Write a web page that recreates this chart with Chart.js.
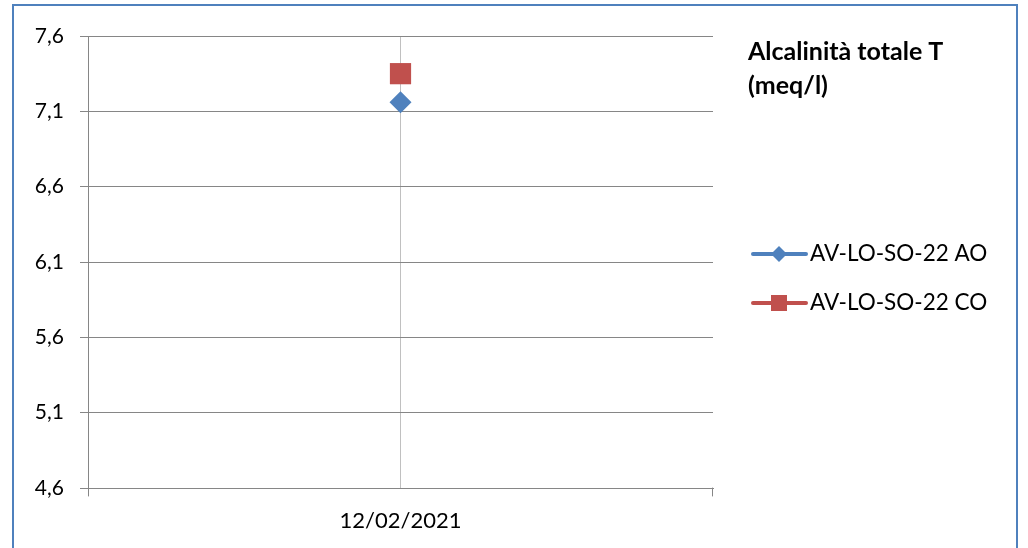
<!DOCTYPE html>
<html>
<head>
<meta charset="utf-8">
<script src="https://cdn.jsdelivr.net/npm/chart.js@4"></script>
<style>
  body { margin: 0; background: #fff; }
  #wrap { position: relative; width: 1028px; height: 548px; overflow: hidden; }
  #box { position: absolute; left: 12px; top: 4px; width: 1006px; height: 600px; border: 2px solid #4f81bd; box-sizing: border-box; pointer-events: none; }
  canvas { position: absolute; left: 0; top: 0; }
</style>
</head>
<body>
<div id="wrap">
  <canvas id="chart" width="1028" height="548"></canvas>
  <div id="box"></div>
</div>
<script>
// dati
const dates = ["12/02/2021"];
const seriesAO = [7.16];
const seriesCO = [7.35];
const seriesNames = ["AV-LO-SO-22 AO", "AV-LO-SO-22 CO"];
const titleLines = ["Alcalinità totale T", "(meq/l)"];
const yMin = 4.6, yMax = 7.6, yStep = 0.5;

const FONT = "Lato, 'Open Sans', sans-serif";

// titolo e legenda a destra, disegnati a mano
const sidePanel = {
    id: "sidePanel",
    afterDraw(chart) {
        const ctx = chart.ctx;
        ctx.save();
        ctx.fillStyle = "#000";
        ctx.font = "bold 25px " + FONT;
        ctx.textBaseline = "middle";
        ctx.textAlign = "left";
        ctx.fillText(titleLines[0], 748, 52);
        ctx.fillText(titleLines[1], 748, 86);

        const items = chart.data.datasets;
        const rows = [254, 303];
        items.forEach((ds, i) => {
            const y = rows[i];
            ctx.strokeStyle = ds.borderColor;
            ctx.lineWidth = 4;
            ctx.lineCap = "round";
            ctx.beginPath();
            ctx.moveTo(753, y);
            ctx.lineTo(806, y);
            ctx.stroke();
            ctx.fillStyle = ds.backgroundColor;
            if (ds.pointStyle === "rectRot") {
                ctx.beginPath();
                ctx.moveTo(779, y - 8);
                ctx.lineTo(787, y);
                ctx.lineTo(779, y + 8);
                ctx.lineTo(771, y);
                ctx.closePath();
                ctx.fill();
            } else {
                ctx.fillRect(771, y - 8, 16, 16);
            }
            ctx.fillStyle = "#000";
            ctx.font = "22.5px " + FONT;
            ctx.fillText(ds.label, 810, y);
        });

        // tacche asse x ai bordi
        const a = chart.chartArea;
        ctx.strokeStyle = "#868686";
        ctx.lineWidth = 1;
        ctx.beginPath();
        ctx.moveTo(a.left + 0.5, a.bottom);
        ctx.lineTo(a.left + 0.5, a.bottom + 8);
        ctx.moveTo(a.right - 0.5, a.bottom);
        ctx.lineTo(a.right - 0.5, a.bottom + 8);
        ctx.stroke();
        ctx.restore();
    }
};

new Chart(document.getElementById("chart"), {
    type: "line",
    data: {
        labels: dates,
        datasets: [{
            label: seriesNames[0],
            data: seriesAO,
            borderColor: "#4f81bd",
            backgroundColor: "#4f81bd",
            pointStyle: "rectRot",
            pointRadius: 11,
            pointBorderWidth: 0,
            borderWidth: 4
        }, {
            label: seriesNames[1],
            data: seriesCO,
            borderColor: "#c0504d",
            backgroundColor: "#c0504d",
            pointStyle: "rect",
            pointRadius: 15,
            pointBorderWidth: 0,
            borderWidth: 4
        }]
    },
    options: {
        responsive: false,
        animation: false,
        layout: { padding: { left: 0, top: 36, right: 315, bottom: 0 } },
        plugins: { legend: { display: false }, tooltip: { enabled: false } },
        scales: {
            x: {
                offset: true,
                grid: { offset: false, color: "#c0c0c0", tickLength: 0, drawTicks: false },
                border: { color: "#868686" },
                ticks: { color: "#000", font: { family: FONT, size: 22 }, padding: 20, maxRotation: 0 },
                afterFit: s => { s.height = 60; }
            },
            y: {
                min: yMin,
                max: yMax,
                ticks: {
                    stepSize: yStep,
                    color: "#000",
                    font: { family: FONT, size: 21 },
                    padding: 16,
                    callback: v => v.toFixed(1).replace(".", ",")
                },
                grid: { color: "#868686", tickLength: 8 },
                border: { color: "#868686" },
                afterFit: s => { s.width = 88; }
            }
        }
    },
    plugins: [sidePanel]
});
</script>
</body>
</html>
